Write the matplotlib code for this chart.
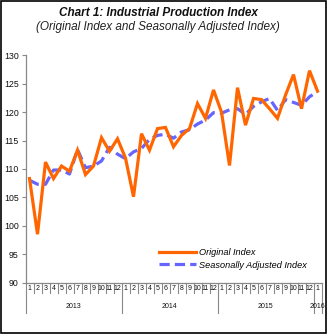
import matplotlib
matplotlib.use("Agg")
import matplotlib.pyplot as plt
from matplotlib.patches import Rectangle
import matplotlib.transforms as mtransforms

plt.rcParams['font.family'] = ['Liberation Sans', 'DejaVu Sans']

years = ["2013", "2014", "2015", "2016"]
months_per_year = [12, 12, 12, 1]
original = [108.3, 98.5, 111.2, 108.3, 110.5, 109.6, 113.3, 109.0, 110.5, 115.5, 113.1, 115.3,
            111.9, 105.1, 116.2, 113.3, 117.1, 117.3, 113.9, 115.9, 117.1, 121.5, 118.9, 123.9,
            120.0, 110.6, 124.3, 117.7, 122.4, 122.2, 120.6, 118.9, 123.0, 126.6, 120.6, 127.3,
            123.7]
adjusted = [108.0, 107.3, 107.3, 109.8, 109.8, 109.1, 113.4, 110.2, 110.5, 111.4, 113.8, 112.6,
            111.8, 113.0, 113.6, 115.2, 115.9, 116.1, 115.4, 116.5, 116.9, 117.9, 118.6, 119.9,
            119.8, 120.4, 120.6, 119.6, 121.0, 121.8, 122.4, 120.3, 122.2, 121.7, 121.2, 122.7,
            123.6]
y_ticks = [90, 95, 100, 105, 110, 115, 120, 125, 130]
title = "Chart 1: Industrial Production Index"
subtitle = "(Original Index and Seasonally Adjusted Index)"
legend_labels = ["Original Index", "Seasonally Adjusted Index"]

W, H = 328, 336
fig = plt.figure(figsize=(W / 100, H / 100), dpi=100)

def px(x0, y0, x1, y1):
    return [x0 / W, 1 - y1 / H, (x1 - x0) / W, (y1 - y0) / H]

ax = fig.add_axes(px(25.5, 55.3, 321.5, 282.5))
n = len(original)
xs = [i + 0.5 for i in range(n)]
l1, = ax.plot(xs, original, color='#FF6600', lw=2.3, solid_joinstyle='miter', zorder=3)
l2, = ax.plot(xs, adjusted, color='#6666FF', lw=2.3, dashes=(3.2, 1.6), zorder=2)
ax.set_xlim(0, n)
ax.set_ylim(90, 130)
ax.set_yticks(y_ticks)
ax.set_yticklabels([str(v) for v in y_ticks])
for s in ['top', 'right']:
    ax.spines[s].set_visible(False)
for s in ['left', 'bottom']:
    ax.spines[s].set_color('#888888')
    ax.spines[s].set_linewidth(0.9)
ax.tick_params(axis='y', direction='out', length=3, width=0.8, color='#888888',
               labelsize=6.3, pad=2, labelcolor='#111111')
ax.set_xticks([])

# category axis
trans = mtransforms.blended_transform_factory(ax.transData, fig.transFigure)
def fy(ypx):
    return 1 - ypx / H
idx = 0
bounds = [0]
for yi, (yr, m) in enumerate(zip(years, months_per_year)):
    for k in range(m):
        ax.text(idx + k + 0.5, fy(288.5), str(k + 1), transform=trans, ha='center', va='center',
                fontsize=5, color='#111111')
        if k > 0:
            ax.plot([idx + k, idx + k], [fy(282.5), fy(293)], transform=trans, color='#888888',
                    lw=0.8, clip_on=False)
    ax.text(idx + m / 2, fy(306), yr, transform=trans, ha='center', va='center',
            fontsize=5, color='#111111')
    idx += m
    bounds.append(idx)
for b in bounds:
    ax.plot([b, b], [fy(282.5), fy(313)], transform=trans, color='#888888', lw=0.8, clip_on=False)

# titles
fig.text(158 / W, fy(13), title, ha='center', va='center', fontsize=8.45, fontweight='bold',
         fontstyle='italic', color='#111111')
fig.text(158 / W, fy(27), subtitle, ha='center', va='center', fontsize=8.5,
         fontstyle='italic', color='#222222')

# legend
ax.legend([l1, l2], legend_labels, loc='lower right', bbox_to_anchor=(0.978, 0.02),
          frameon=False, handlelength=4.0, handletextpad=0.35,
          labelspacing=0.4, prop={'style': 'italic', 'size': 6.6})

# border
fig.patches.append(Rectangle((1 / W, 1 - 333 / H), 325 / W, 332 / H, transform=fig.transFigure,
                             fill=False, edgecolor='black', lw=1.2))

fig.savefig('out.png', dpi=100)
